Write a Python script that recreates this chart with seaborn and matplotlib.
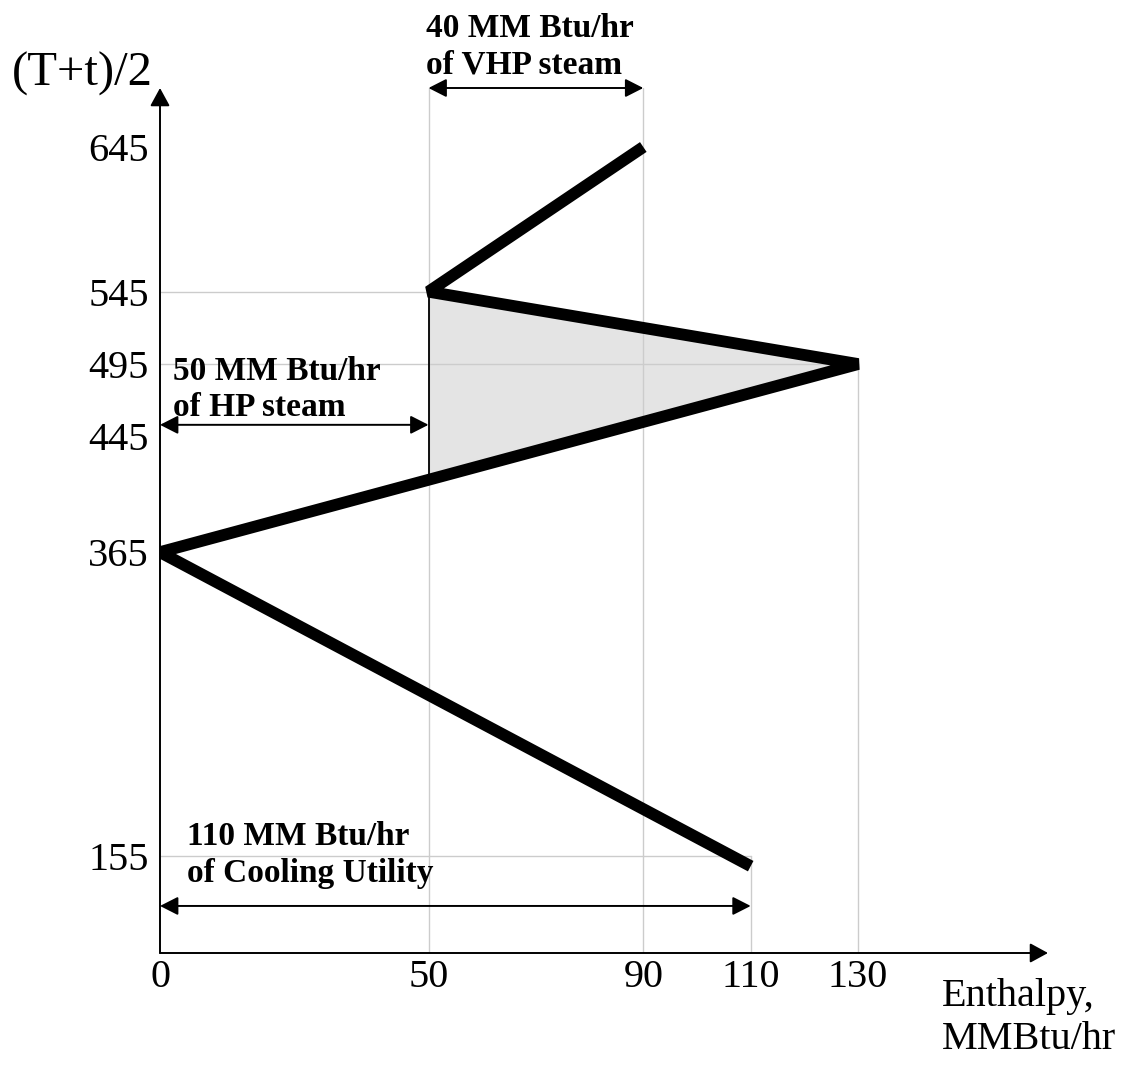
import matplotlib
matplotlib.use("Agg")
import matplotlib.pyplot as plt
import seaborn as sns
from matplotlib.patches import Polygon

# Grand composite curve (enthalpy vs. shifted temperature)
enthalpy = [90, 50, 130, 0, 110]
shifted_temp = [645, 545, 495, 365, 148]

# Axis ticks
x_ticks = [0, 50, 90, 110, 130]
y_ticks = [645, 545, 495, 445, 365, 155]

# Pocket between the HP steam line and the curve
pocket_x = [50, 130, 50]
pocket_y = [545, 495, 415]

# Utility loads (MM Btu/hr) and their labels
vhp_span = [50, 90]
hp_span = [0, 50]
cooling_span = [0, 110]
vhp_text = "40 MM Btu/hr\nof VHP steam"
hp_text = "50 MM Btu/hr\nof HP steam"
cooling_text = "110 MM Btu/hr\nof Cooling Utility"

sns.set_style("white")
plt.rcParams["font.family"] = ["Liberation Serif", "DejaVu Serif"]
plt.rcParams["text.color"] = "black"
plt.rcParams["xtick.color"] = "black"
plt.rcParams["ytick.color"] = "black"

W, H = 1139, 1070
fig = plt.figure(figsize=(W / 100, H / 100), dpi=100)

# axes box in pixels: x 160..1048, y 88..953
ax = fig.add_axes([160 / W, (H - 953) / H, 888 / W, 865 / H])
XMAX = 888 / 5.37
YMIN = 645 - (953 - 147) / 1.447
YMAX = YMIN + 865 / 1.447
ax.set_xlim(0, XMAX)
ax.set_ylim(YMIN, YMAX)
for s in ax.spines.values():
    s.set_visible(False)
ax.grid(False)

grid_kw = dict(color="#cccccc", lw=1.0, zorder=1)
vhp_y = YMAX
hp_y = 453
cool_y = 120.5

# light reference lines
ax.plot([50, 50], [YMIN, vhp_y], **grid_kw)
ax.plot([90, 90], [YMIN, vhp_y], **grid_kw)
ax.plot([110, 110], [YMIN, 155], **grid_kw)
ax.plot([130, 130], [YMIN, 495], **grid_kw)
ax.plot([0, 50], [545, 545], **grid_kw)
ax.plot([0, 130], [495, 495], **grid_kw)
ax.plot([0, 110], [155, 155], **grid_kw)

# shaded pocket
ax.add_patch(Polygon(list(zip(pocket_x, pocket_y)), closed=True,
                     facecolor="#e4e4e4", edgecolor="none", zorder=0.5))
ax.plot([50, 50], [pocket_y[2], pocket_y[0]], color="black", lw=1.3, zorder=2)

# the curve
sns.lineplot(x=enthalpy, y=shifted_temp, sort=False, estimator=None,
             color="black", lw=8.5, ax=ax, zorder=5)
for ln in ax.lines[-1:]:
    ln.set_solid_joinstyle("bevel")
    ln.set_solid_capstyle("butt")

# coordinate axes with arrow heads
axis_arrow = dict(arrowstyle="-|>,head_length=0.55,head_width=0.3",
                  lw=1.4, color="black", shrinkA=0, shrinkB=0, mutation_scale=20)
ax.annotate("", xy=(XMAX, YMIN), xytext=(0, YMIN), arrowprops=axis_arrow,
            annotation_clip=False)
ax.annotate("", xy=(0, YMAX), xytext=(0, YMIN), arrowprops=axis_arrow,
            annotation_clip=False)

# dimension arrows for utility loads
dim_arrow = dict(arrowstyle="<|-|>,head_length=0.55,head_width=0.28",
                 lw=1.4, color="black", shrinkA=0, shrinkB=0, mutation_scale=20)
ax.annotate("", xy=(vhp_span[1], vhp_y), xytext=(vhp_span[0], vhp_y),
            arrowprops=dim_arrow, annotation_clip=False)
ax.annotate("", xy=(hp_span[1], hp_y), xytext=(hp_span[0], hp_y),
            arrowprops=dim_arrow, annotation_clip=False)
ax.annotate("", xy=(cooling_span[1], cool_y), xytext=(cooling_span[0], cool_y),
            arrowprops=dim_arrow, annotation_clip=False)

bold = dict(fontsize=24, fontweight="bold", ha="left", va="bottom",
            linespacing=1.22)
ax.text(49.5, vhp_y + 5, vhp_text, **bold)
ax.text(2.4, hp_y + 1.3, hp_text, **bold)
ax.text(5.0, cool_y + 12, cooling_text, **bold)

# ticks
ax.set_xticks(x_ticks)
ax.set_xticklabels([str(v) for v in x_ticks], fontsize=29)
ax.set_yticks(y_ticks)
ax.set_yticklabels([str(v) for v in y_ticks], fontsize=29)
ax.tick_params(axis="both", length=0)
ax.tick_params(axis="x", pad=4)
ax.tick_params(axis="y", pad=8)

fig.text(153 / W, 1 - 74 / H, "(T+t)/2", fontsize=35, ha="right", va="center")
fig.text(942 / W, 1 - 978 / H, "Enthalpy,\nMMBtu/hr", fontsize=29,
         ha="left", va="top", linespacing=1.2)

fig.savefig("out.png", dpi=100, facecolor="white")
